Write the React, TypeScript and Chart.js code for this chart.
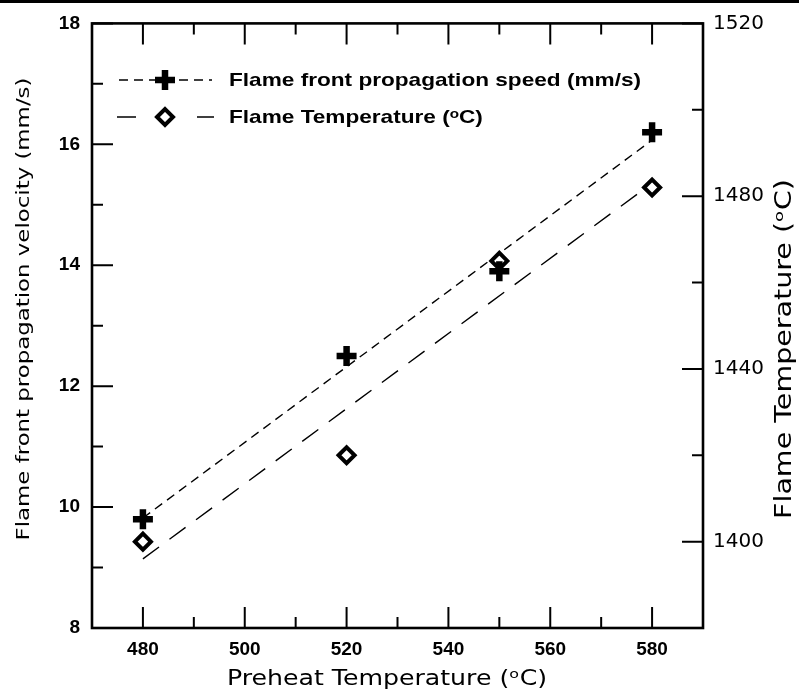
import React, { useEffect, useRef } from 'react';
import { Chart, registerables } from 'chart.js';
import { drawPoint } from 'chart.js/helpers';

Chart.register(...registerables);

// ---- data ----
const preheatTemps = [480, 520, 550, 580];
const speedValues = [9.8, 12.5, 13.9, 16.2];
const flameTemps = [1400, 1420, 1465, 1482];
const fitX = [480, 580];
const speedFit = [9.82, 16.07];
const tempFit = [1396, 1483];

const xMajorTicks = [480, 500, 520, 540, 560, 580];
const xMinorTicks = [490, 510, 530, 550, 570];
const yMajorTicks = [8, 10, 12, 14, 16, 18];
const yMinorTicks = [9, 11, 13, 15, 17];
const y2MajorTicks = [1400, 1440, 1480, 1520];
const y2MinorTicks = [1420, 1460, 1500];

const speedLabel = 'Flame front propagation speed (mm/s)';
const tempLabel = 'Flame Temperature (ᵒC)';
const xTitle = 'Preheat Temperature (ᵒC)';
const yTitle = 'Flame front propagation velocity (mm/s)';
const y2Title = 'Flame Temperature (ᵒC)';

const SPEED_DASH = [9, 6];
const TEMP_DASH = [20, 13];

function stretchedText(
  ctx: CanvasRenderingContext2D,
  text: string,
  cx: number,
  cy: number,
  rot: number,
  font: string,
  stretch: number,
) {
  ctx.save();
  ctx.translate(cx, cy);
  ctx.rotate(rot);
  ctx.scale(stretch, 1);
  ctx.font = font;
  ctx.fillStyle = '#000';
  ctx.textAlign = 'center';
  ctx.textBaseline = 'middle';
  ctx.fillText(text, 0, 0);
  ctx.restore();
}

const framePlugin = {
  id: 'frameTicks',
  beforeDraw(chart: any) {
    const ctx = chart.ctx;
    ctx.save();
    ctx.fillStyle = '#000';
    ctx.fillRect(0, 0, chart.width, 3);
    ctx.restore();
  },
  beforeDatasetsDraw(chart: any) {
    const { ctx, chartArea } = chart;
    const { left, right, top, bottom } = chartArea;
    const sx = chart.scales.x;
    const sy = chart.scales.y;
    const sy2 = chart.scales.y2;
    ctx.save();
    ctx.strokeStyle = '#000';
    ctx.lineWidth = 2;
    ctx.lineCap = 'butt';
    const major = 21;
    const minor = 11;
    ctx.beginPath();
    for (const v of xMajorTicks) {
      const px = sx.getPixelForValue(v);
      ctx.moveTo(px, bottom); ctx.lineTo(px, bottom - major);
      ctx.moveTo(px, top); ctx.lineTo(px, top + major);
    }
    for (const v of xMinorTicks) {
      const px = sx.getPixelForValue(v);
      ctx.moveTo(px, bottom); ctx.lineTo(px, bottom - minor);
      ctx.moveTo(px, top); ctx.lineTo(px, top + minor);
    }
    for (const v of yMajorTicks) {
      const py = sy.getPixelForValue(v);
      ctx.moveTo(left, py); ctx.lineTo(left + major, py);
    }
    for (const v of yMinorTicks) {
      const py = sy.getPixelForValue(v);
      ctx.moveTo(left, py); ctx.lineTo(left + minor, py);
    }
    for (const v of y2MajorTicks) {
      const py = sy2.getPixelForValue(v);
      ctx.moveTo(right, py); ctx.lineTo(right - major, py);
    }
    for (const v of y2MinorTicks) {
      const py = sy2.getPixelForValue(v);
      ctx.moveTo(right, py); ctx.lineTo(right - minor, py);
    }
    ctx.stroke();
    ctx.lineWidth = 2.6;
    ctx.strokeRect(left, top, right - left, bottom - top);
    ctx.restore();

    // axis titles (stretched like the original figure)
    const titleFamily = '"DejaVu Sans", sans-serif';
    stretchedText(ctx, yTitle, 24, 309, -Math.PI / 2, `18px ${titleFamily}`, 1.27);
    stretchedText(ctx, y2Title, 785, 349, -Math.PI / 2, `23px ${titleFamily}`, 1.24);
    stretchedText(ctx, xTitle, 387, 680, 0, `21px ${titleFamily}`, 1.2);
  },
  afterDatasetsDraw(chart: any) {
    const ctx = chart.ctx;
    ctx.save();
    ctx.strokeStyle = '#000';
    ctx.fillStyle = '#000';
    const y1 = 80;
    const y2 = 117;
    ctx.lineWidth = 1.3;
    ctx.setLineDash(SPEED_DASH);
    ctx.beginPath();
    ctx.moveTo(119, y1); ctx.lineTo(212, y1);
    ctx.stroke();
    ctx.setLineDash([19, 61]);
    ctx.beginPath();
    ctx.moveTo(117, y2); ctx.lineTo(214, y2);
    ctx.stroke();
    ctx.setLineDash([]);
    ctx.lineWidth = 6.5;
    drawPoint(ctx, { pointStyle: 'cross', radius: 10, rotation: 0, borderWidth: 6.5 } as any, 165, y1);
    ctx.fillStyle = '#fff';
    ctx.lineWidth = 4;
    drawPoint(ctx, { pointStyle: 'rectRot', radius: 8, rotation: 0, borderWidth: 4 } as any, 165, y2);
    ctx.restore();

    const legendFont = 'bold 19px "Liberation Sans", Arial, sans-serif';
    ctx.save();
    ctx.font = legendFont;
    const w1 = ctx.measureText(speedLabel).width;
    const w2 = ctx.measureText(tempLabel).width;
    ctx.restore();
    const st = 1.19;
    stretchedText(ctx, speedLabel, 229 + (w1 * st) / 2, y1 + 1, 0, legendFont, st);
    stretchedText(ctx, tempLabel, 229 + (w2 * st) / 2, y2 + 1, 0, legendFont, st);
  },
};

export default function App() {
  const ref = useRef<HTMLCanvasElement | null>(null);
  useEffect(() => {
    if (!ref.current) return;
    const boldTick = { family: '"Liberation Sans", Arial, sans-serif', size: 19, weight: 'bold' as const };
    const chart = new Chart(ref.current, {
      type: 'scatter',
      data: {
        datasets: [
          {
            label: speedLabel,
            data: preheatTemps.map((x, i) => ({ x, y: speedValues[i] })),
            yAxisID: 'y',
            showLine: false,
            pointStyle: 'cross',
            pointRadius: 10,
            pointBorderWidth: 6.5,
            borderColor: '#000',
            backgroundColor: '#000',
          },
          {
            label: tempLabel,
            data: preheatTemps.map((x, i) => ({ x, y: flameTemps[i] })),
            yAxisID: 'y2',
            showLine: false,
            pointStyle: 'rectRot',
            pointRadius: 8,
            pointBorderWidth: 4,
            borderColor: '#000',
            backgroundColor: '#fff',
          },
          {
            label: 'speed fit',
            data: fitX.map((x, i) => ({ x, y: speedFit[i] })),
            yAxisID: 'y',
            showLine: true,
            pointRadius: 0,
            borderColor: '#000',
            borderWidth: 1.4,
            borderDash: SPEED_DASH,
          },
          {
            label: 'temperature fit',
            data: fitX.map((x, i) => ({ x, y: tempFit[i] })),
            yAxisID: 'y2',
            showLine: true,
            pointRadius: 0,
            borderColor: '#000',
            borderWidth: 1.4,
            borderDash: TEMP_DASH,
          },
        ],
      },
      options: {
        animation: false,
        responsive: false,
        maintainAspectRatio: false,
        layout: { padding: { top: 16, left: 0, right: 0, bottom: 0 } },
        plugins: { legend: { display: false }, tooltip: { enabled: false } },
        scales: {
          x: {
            type: 'linear',
            position: 'bottom',
            min: 470,
            max: 590,
            afterBuildTicks: (s: any) => { s.ticks = xMajorTicks.map((v) => ({ value: v })); },
            afterFit: (s: any) => { s.height = 67; },
            grid: { display: false, drawTicks: false },
            border: { display: false },
            ticks: { font: boldTick, color: '#000', padding: 10, maxRotation: 0 },
          },
          y: {
            type: 'linear',
            position: 'left',
            min: 8,
            max: 18,
            afterBuildTicks: (s: any) => { s.ticks = yMajorTicks.map((v) => ({ value: v })); },
            afterFit: (s: any) => { s.width = 92; },
            grid: { display: false, drawTicks: false },
            border: { display: false },
            ticks: { font: boldTick, color: '#000', padding: 12 },
          },
          y2: {
            type: 'linear',
            position: 'right',
            min: 1380,
            max: 1520,
            afterBuildTicks: (s: any) => { s.ticks = y2MajorTicks.map((v) => ({ value: v })); },
            afterFit: (s: any) => { s.width = 96; },
            grid: { display: false, drawTicks: false },
            border: { display: false },
            ticks: {
              font: { family: '"DejaVu Sans", sans-serif', size: 20 },
              color: '#000',
              padding: 10,
              callback: (v: any) => String(v),
            },
          },
        },
      },
      plugins: [framePlugin],
    });
    return () => chart.destroy();
  }, []);
  return (
    <div style={{ position: 'absolute', left: 0, top: 0, width: 799, height: 695, background: '#fff' }}>
      <canvas ref={ref} width={799} height={695} style={{ display: 'block', width: 799, height: 695 }} />
    </div>
  );
}
